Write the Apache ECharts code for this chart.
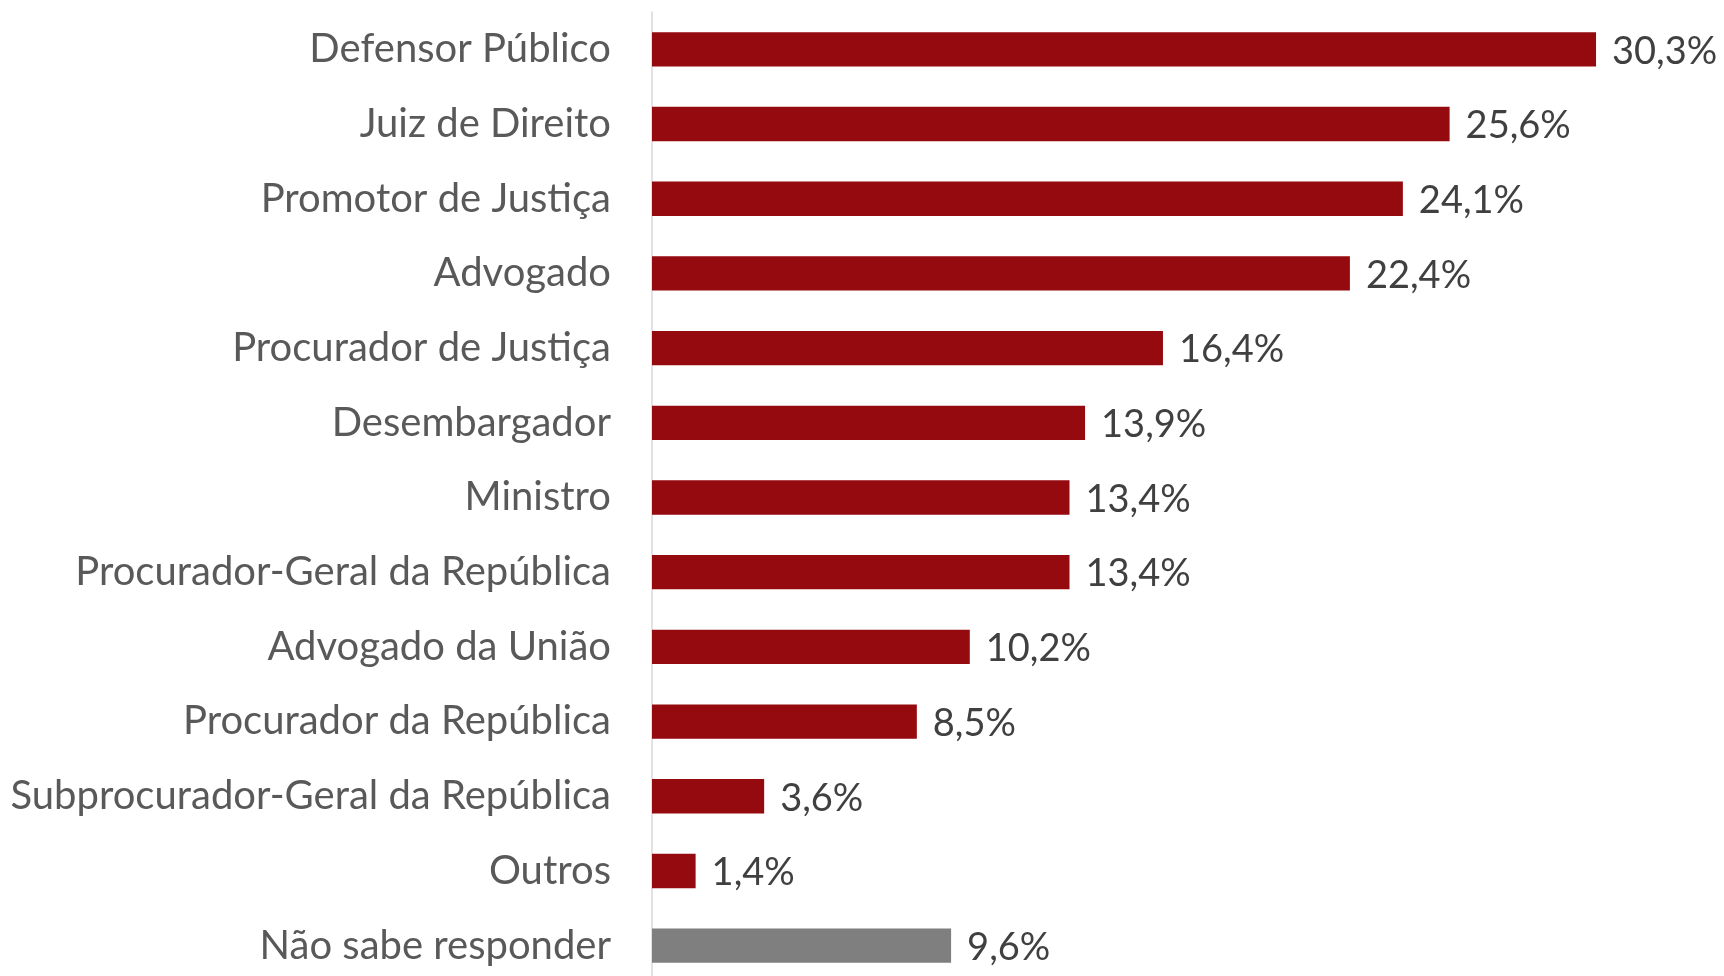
<!DOCTYPE html>
<html>
<head>
<meta charset="utf-8">
<script src="https://cdn.jsdelivr.net/npm/echarts@6/dist/echarts.min.js"></script>
<style>
  html, body { margin: 0; padding: 0; background: #fff; overflow: hidden; }
  /* o gráfico original é cortado na parte de baixo */
  #main { width: 1724px; height: 992px; }
</style>
</head>
<body>
<div id="main"></div>
<script type="text/javascript">
    // categorias e percentuais
    var categorias = [
        'Defensor Público',
        'Juiz de Direito',
        'Promotor de Justiça',
        'Advogado',
        'Procurador de Justiça',
        'Desembargador',
        'Ministro',
        'Procurador-Geral da República',
        'Advogado da União',
        'Procurador da República',
        'Subprocurador-Geral da República',
        'Outros',
        'Não sabe responder'
    ];
    var valores = [30.3, 25.6, 24.1, 22.4, 16.4, 13.9, 13.4, 13.4, 10.2, 8.5, 3.6, 1.4, 9.6];

    var VERMELHO = '#940A0E';
    var CINZA = '#7F7F7F';

    var dados = valores.map(function (v, i) {
        return {
            value: v,
            itemStyle: { color: categorias[i] === 'Não sabe responder' ? CINZA : VERMELHO }
        };
    });

    var chart = echarts.init(document.getElementById('main'));
    var option = {
        animation: false,
        grid: {
            left: 652,
            right: 75,
            top: 12,
            height: 971,
            containLabel: false
        },
        xAxis: {
            type: 'value',
            min: 0,
            max: 32,
            show: false
        },
        yAxis: {
            type: 'category',
            inverse: true,
            data: categorias,
            axisLine: { show: true, lineStyle: { color: '#D9D9D9', width: 1.5 } },
            axisTick: { show: false },
            axisLabel: {
                margin: 41,
                color: '#595959',
                fontSize: 40,
                fontFamily: 'Lato'
            }
        },
        series: [
            {
                type: 'bar',
                data: dados,
                barCategoryGap: '54%',
                label: {
                    show: true,
                    position: 'right',
                    distance: 16,
                    offset: [0, 2],
                    color: '#404040',
                    fontSize: 38,
                    fontFamily: 'Lato',
                    formatter: function (p) {
                        return p.value.toFixed(1).replace('.', ',') + '%';
                    }
                }
            }
        ]
    };
    chart.setOption(option);
    window.addEventListener('resize', chart.resize);
</script>
</body>
</html>
